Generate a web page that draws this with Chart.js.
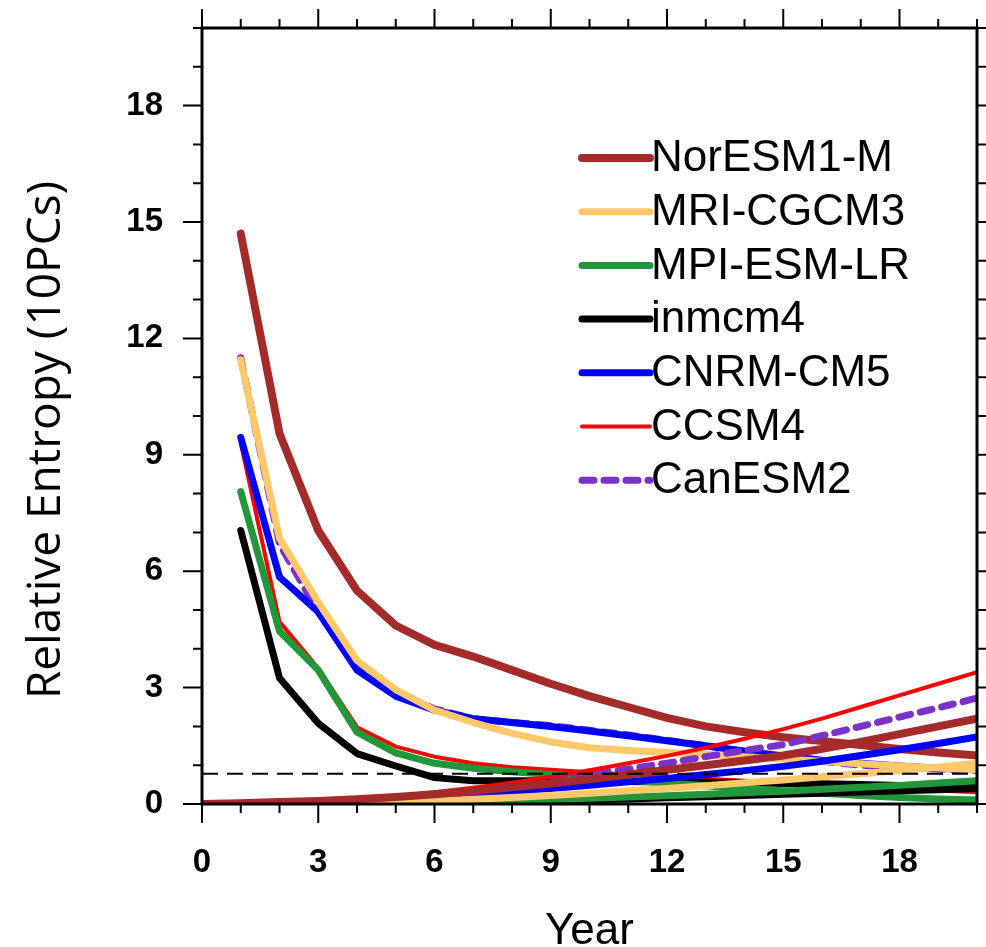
<!DOCTYPE html>
<html>
<head>
<meta charset="utf-8">
<script src="https://cdn.jsdelivr.net/npm/chart.js@4.4.0/dist/chart.umd.min.js"></script>
<style>
  body { margin: 0; background: #fff; }
  canvas { display: block; }
</style>
</head>
<body>
<canvas id="entropyChart" width="986" height="947"></canvas>
<script>
// years on the x axis
const years = [0, 1, 2, 3, 4, 5, 6, 7, 8, 9, 10, 11, 12, 13, 14, 15, 16, 17, 18, 19, 20];
const xTicks = [0, 3, 6, 9, 12, 15, 18];
const yTicks = [0, 3, 6, 9, 12, 15, 18];
const threshold = 0.78;

const models = ['NorESM1-M', 'MRI-CGCM3', 'MPI-ESM-LR', 'inmcm4', 'CNRM-CM5', 'CCSM4', 'CanESM2'];

// decaying curves, years 1..20
const norDecay  = [14.7, 9.55, 7.05, 5.5, 4.6, 4.1, 3.8, 3.45, 3.1, 2.78, 2.5, 2.22, 2.0, 1.85, 1.72, 1.62, 1.52, 1.42, 1.33, 1.25];
const mriDecay  = [11.45, 6.85, 5.2, 3.7, 2.95, 2.42, 2.1, 1.82, 1.6, 1.45, 1.38, 1.33, 1.28, 1.22, 1.16, 1.1, 1.04, 0.98, 0.93, 0.88];
const mpiDecay  = [8.05, 4.45, 3.45, 1.85, 1.32, 1.05, 0.92, 0.83, 0.76, 0.7, 0.62, 0.54, 0.47, 0.4, 0.34, 0.28, 0.22, 0.17, 0.13, 0.1];
const inmDecay  = [7.05, 3.25, 2.08, 1.3, 0.98, 0.68, 0.6, 0.6, 0.6, 0.6, 0.58, 0.57, 0.56, 0.55, 0.53, 0.52, 0.5, 0.48, 0.46, 0.44];
const cnrmDecay = [9.45, 5.85, 4.95, 3.45, 2.78, 2.42, 2.2, 2.1, 2.0, 1.88, 1.76, 1.63, 1.5, 1.36, 1.24, 1.13, 1.05, 0.98, 0.92, 0.88];
const ccsmDecay = [9.3, 4.7, 3.5, 1.98, 1.48, 1.22, 1.05, 0.95, 0.88, 0.82, 0.76, 0.7, 0.65, 0.6, 0.55, 0.5, 0.45, 0.4, 0.35, 0.3];
const canDecay  = [11.5, 6.7, 4.95, 3.6, 2.88, 2.45, 2.2, 2.1, 2.02, 1.9, 1.78, 1.64, 1.5, 1.36, 1.22, 1.1, 1.0, 0.94, 0.9, 0.86];

// growing curves, years 0..20
const norGrow  = [0, 0.02, 0.05, 0.08, 0.12, 0.18, 0.25, 0.33, 0.43, 0.53, 0.64, 0.76, 0.88, 1.0, 1.12, 1.25, 1.42, 1.6, 1.8, 2.0, 2.2];
const mriGrow  = [0, 0, 0.01, 0.02, 0.03, 0.05, 0.08, 0.12, 0.17, 0.22, 0.28, 0.34, 0.4, 0.47, 0.55, 0.62, 0.7, 0.78, 0.86, 0.95, 1.05];
const mpiGrow  = [0, 0, 0.01, 0.01, 0.02, 0.03, 0.05, 0.07, 0.09, 0.12, 0.15, 0.18, 0.21, 0.25, 0.29, 0.33, 0.38, 0.43, 0.48, 0.54, 0.6];
const inmGrow  = [0, 0, 0, 0.01, 0.01, 0.02, 0.03, 0.05, 0.07, 0.09, 0.11, 0.13, 0.16, 0.19, 0.22, 0.25, 0.28, 0.31, 0.34, 0.37, 0.4];
const cnrmGrow = [0, 0.01, 0.03, 0.05, 0.08, 0.12, 0.17, 0.24, 0.32, 0.4, 0.48, 0.57, 0.66, 0.76, 0.86, 0.97, 1.1, 1.25, 1.4, 1.56, 1.73];
const ccsmGrow = [0, 0.01, 0.03, 0.06, 0.12, 0.2, 0.3, 0.42, 0.55, 0.7, 0.87, 1.05, 1.24, 1.45, 1.68, 1.93, 2.2, 2.5, 2.8, 3.1, 3.4];
const canGrow  = [0, 0.01, 0.03, 0.06, 0.1, 0.16, 0.24, 0.34, 0.46, 0.6, 0.76, 0.9, 1.05, 1.22, 1.38, 1.53, 1.76, 2.0, 2.24, 2.48, 2.73];

const decays = [norDecay, mriDecay, mpiDecay, inmDecay, cnrmDecay, ccsmDecay, canDecay];
const grows = [norGrow, mriGrow, mpiGrow, inmGrow, cnrmGrow, ccsmGrow, canGrow];

// line styles per model
const colors = ['#a52a2a', '#fdc86a', '#22963a', '#000000', '#0000ff', '#ff0000', '#7b32c8'];
const widths = [8, 7, 7, 7, 7, 4, 7];
const dashes = [[], [], [], [], [], [], [12, 10]];

function toPoints(xs, ys) {
    return ys.map((v, i) => ({ x: xs[i], y: v }));
}

function lineSet(label, data, i) {
    return {
        label: label,
        data: data,
        borderColor: colors[i],
        borderWidth: widths[i],
        borderDash: dashes[i],
        borderCapStyle: 'round',
        borderJoinStyle: 'round',
        pointRadius: 0,
        fill: false,
        tension: 0
    };
}

// first dataset is drawn on top in Chart.js
const datasets = [];
datasets.push({
    label: 'threshold',
    data: [{ x: years[0], y: threshold }, { x: years[years.length - 1], y: threshold }],
    borderColor: '#000',
    borderWidth: 2,
    borderDash: [16, 9],
    pointRadius: 0
});
models.forEach((m, i) => datasets.push(lineSet(m + ' growth', toPoints(years, grows[i]), i)));
models.forEach((m, i) => datasets.push(lineSet(m, toPoints(years.slice(1), decays[i]), i)));

//----frame with outward major/minor ticks on all four sides
const frameTicks = {
    id: 'frameTicks',
    afterDraw(chart) {
        const { ctx, chartArea: a, scales: { x, y } } = chart;
        const major = 19, minor = 9;
        ctx.save();
        ctx.strokeStyle = '#000';
        ctx.lineWidth = 2;
        ctx.beginPath();
        years.forEach(t => {
            const len = xTicks.includes(t) ? major : minor;
            const px = x.getPixelForValue(t);
            ctx.moveTo(px, a.bottom); ctx.lineTo(px, a.bottom + len);
            ctx.moveTo(px, a.top); ctx.lineTo(px, a.top - len);
        });
        for (let v = 0; v <= 20; v++) {
            const len = yTicks.includes(v) ? major : minor;
            const py = y.getPixelForValue(v);
            ctx.moveTo(a.left, py); ctx.lineTo(a.left - len, py);
            ctx.moveTo(a.right, py); ctx.lineTo(a.right + len, py);
        }
        ctx.stroke();
        ctx.lineWidth = 3;
        ctx.strokeRect(a.left, a.top, a.right - a.left, a.bottom - a.top);

        // y axis title
        ctx.translate(47, 440);
        ctx.rotate(-Math.PI / 2);
        ctx.fillStyle = '#000';
        ctx.font = '46px "Open Sans"';
        ctx.textAlign = 'center';
        ctx.textBaseline = 'middle';
        ctx.fillText('Relative Entropy (10PCs)', 0, 0);
        ctx.restore();
    }
};

//----legend drawn inside the plot
const lineLegend = {
    id: 'lineLegend',
    afterDraw(chart) {
        const ctx = chart.ctx;
        ctx.save();
        ctx.font = '44px "Liberation Sans"';
        ctx.textBaseline = 'middle';
        ctx.fillStyle = '#000';
        models.forEach((m, i) => {
            const ly = 158 + i * 53.7;
            ctx.beginPath();
            ctx.strokeStyle = colors[i];
            ctx.lineWidth = widths[i];
            ctx.lineCap = 'round';
            ctx.setLineDash(dashes[i]);
            ctx.moveTo(582, ly);
            ctx.lineTo(650, ly);
            ctx.stroke();
            ctx.setLineDash([]);
            ctx.fillText(m, 651, ly + 1);
        });
        ctx.restore();
    }
};

const tickFont = { family: 'Liberation Sans', size: 33, weight: 'bold' };

var ctx = document.getElementById('entropyChart').getContext('2d');
var entropyChart = new Chart(ctx, {
    type: 'line',
    data: { datasets: datasets },
    options: {
        responsive: false,
        animation: false,
        devicePixelRatio: 1,
        layout: { padding: { top: 28, right: 9, left: 0, bottom: 0 } },
        plugins: { legend: { display: false }, tooltip: { enabled: false } },
        scales: {
            x: {
                type: 'linear',
                min: 0,
                max: 20,
                afterFit: s => { s.height = 143; s.paddingLeft = 0; s.paddingRight = 0; },
                grid: { display: false, drawTicks: false },
                border: { display: false },
                ticks: {
                    stepSize: 3,
                    includeBounds: false,
                    autoSkip: false,
                    maxRotation: 0,
                    color: '#000',
                    font: tickFont,
                    padding: 39
                },
                title: {
                    display: true,
                    text: 'Year',
                    color: '#000',
                    font: { family: 'Liberation Sans', size: 44, lineHeight: 0.68 },
                    padding: { top: 0, bottom: 0 }
                }
            },
            y: {
                min: 0,
                max: 20,
                afterFit: s => { s.width = 202; s.paddingTop = 0; s.paddingBottom = 0; },
                grid: { display: false, drawTicks: false },
                border: { display: false },
                ticks: {
                    stepSize: 3,
                    includeBounds: false,
                    color: '#000',
                    font: tickFont,
                    padding: 39
                }
            }
        }
    },
    plugins: [frameTicks, lineLegend]
});
</script>
</body>
</html>
